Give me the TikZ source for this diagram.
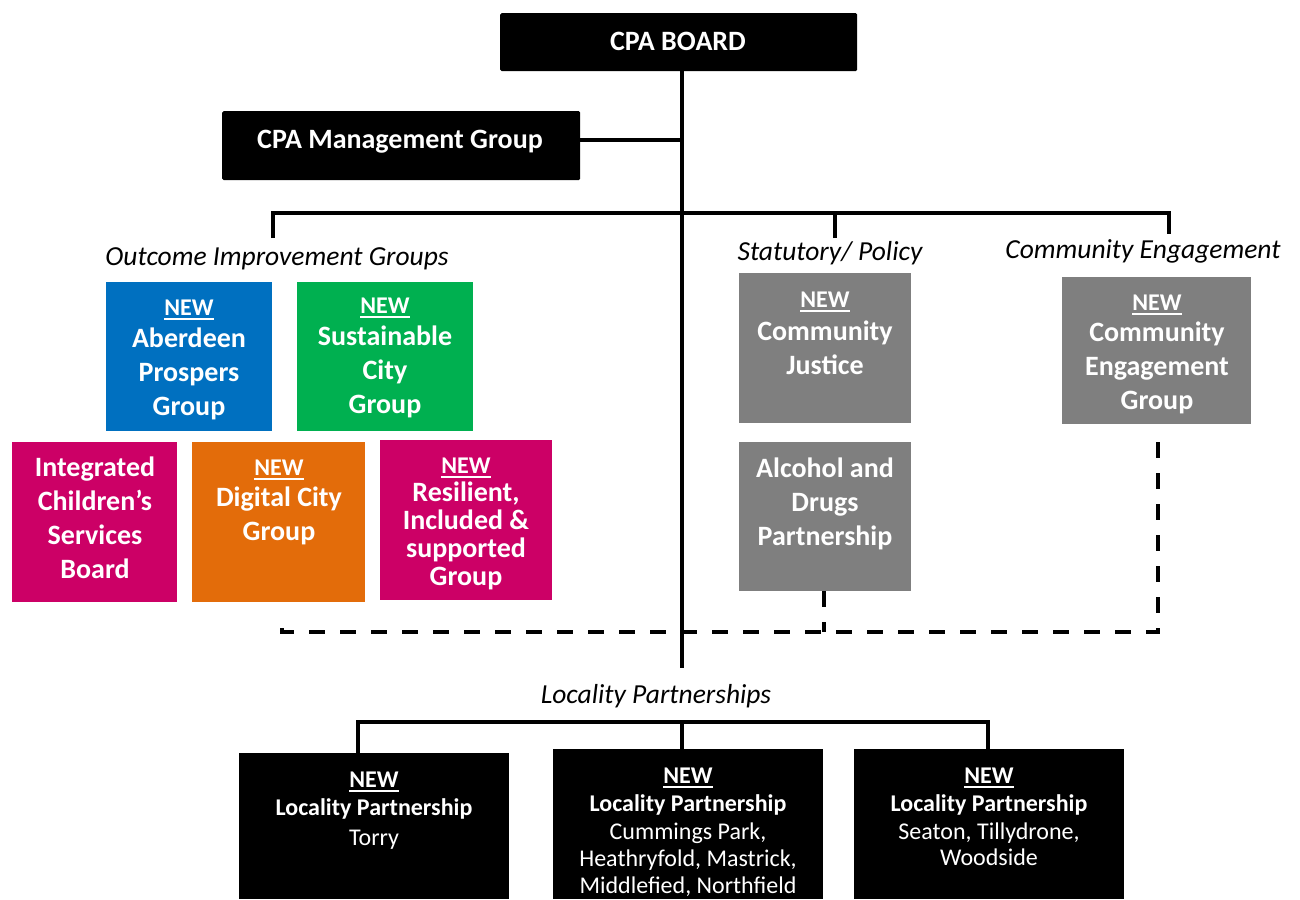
\documentclass[tikz,border=0pt]{standalone}
\usepackage{fontspec}
\setmainfont{Carlito}
\definecolor{cblue}{RGB}{0,112,192}
\definecolor{cgreen}{RGB}{0,176,80}
\definecolor{cmag}{RGB}{204,0,102}
\definecolor{corange}{RGB}{227,108,10}
\definecolor{cgray}{RGB}{127,127,127}
\newsavebox\ulbox
\newcommand\newul[1]{\sbox\ulbox{#1}\rlap{\rule[-4.5pt]{\wd\ulbox}{1.6pt}}\usebox\ulbox}
\newcommand\fstrut{\rule{0pt}{22pt}}
\newcommand\NEWa{{\fontsize{24}{28}\selectfont\newul{NEW}}}
\begin{document}
\begin{tikzpicture}[x=1pt,y=-1pt,
  box/.style={rectangle,inner sep=0,anchor=north west,draw=none},
  blackbox/.style={box,fill=black,rounded corners=1.5pt},
  wtxt/.style={text=white,inner sep=0,align=center,font=\bfseries\fontsize{28}{34}\selectfont},
  wtxtsm/.style={text=white,inner sep=0,align=center,font=\fontsize{24}{28}\selectfont},
  lbl/.style={inner sep=0,anchor=base,font=\itshape\fontsize{27.5}{32}\selectfont},
  conn/.style={line width=3.8pt,black},
  dashline/.style={line width=4pt,black,dash pattern=on 16pt off 15pt}]
\useasboundingbox (0,0) rectangle (1300,899);

% top boxes
\node[blackbox,minimum width=357pt,minimum height=58pt] (board) at (500,13) {};
\node[wtxt,anchor=base] (boardt) at (678,51) {CPA BOARD};
\node[blackbox,minimum width=358pt,minimum height=69pt] (mg) at (222,111) {};
\node[wtxt,anchor=base] (mgt) at (400,148) {CPA Management Group};

% group labels
\node[lbl] (oigl) at (277,265) {Outcome Improvement Groups};
\node[lbl] (statl) at (830,260) {Statutory/ Policy};
\node[lbl] (cengl) at (1143,258) {Community Engagement};
\node[lbl] (locl) at (656,703) {Locality Partnerships};

% outcome improvement groups
\node[box,fill=cblue,minimum width=166pt,minimum height=149pt] (aber) at (106,282) {};
\node[wtxt,anchor=north] (abert) at (189,293) {\fstrut\NEWa\\[-2pt]Aberdeen\\Prospers\\Group};
\node[box,fill=cgreen,minimum width=176pt,minimum height=149pt] (sust) at (297,282) {};
\node[wtxt,anchor=north] (sustt) at (385,291) {\fstrut\NEWa\\[-2pt]Sustainable\\City\\Group};
\node[box,fill=cmag,minimum width=165pt,minimum height=160pt] (icsb) at (12,442) {};
\node[wtxt,anchor=north] (icsbt) at (95,454) {\fstrut Integrated\\Children’s\\Services\\Board};
\node[box,fill=corange,minimum width=173pt,minimum height=160pt] (dig) at (192,442) {};
\node[wtxt,anchor=north] (digt) at (279,453) {\fstrut\NEWa\\[-3pt]Digital City\\Group};
\node[box,fill=cmag,minimum width=172pt,minimum height=160pt] (res) at (380,440) {};
\node[wtxt,anchor=north,font=\bfseries\fontsize{28}{28}\selectfont] (rest) at (466,451) {\fstrut\NEWa\\Resilient,\\Included \&\\supported\\Group};

% statutory / policy
\node[box,fill=cgray,minimum width=172pt,minimum height=150pt] (cj) at (739,273) {};
\node[wtxt,anchor=north] (cjt) at (825,285) {\fstrut\NEWa\\[-1pt]Community\\Justice};
\node[box,fill=cgray,minimum width=172pt,minimum height=149pt] (adp) at (739,442) {};
\node[wtxt,anchor=north] (adpt) at (825,455) {\fstrut Alcohol and\\Drugs\\Partnership};

% community engagement
\node[box,fill=cgray,minimum width=189pt,minimum height=147pt] (ceg) at (1062,277) {};
\node[wtxt,anchor=north] (cegt) at (1157,288) {\fstrut\NEWa\\[-3pt]Community\\Engagement\\Group};

% locality partnerships
\node[box,fill=black,minimum width=270pt,minimum height=146pt] (lp1) at (239,753) {};
\node[wtxtsm,anchor=north] (lp1t) at (374,765) {\fstrut\textbf{\newul{NEW}}\\\textbf{Locality Partnership}\\[2pt]Torry};
\node[box,fill=black,minimum width=270pt,minimum height=150pt] (lp2) at (553,749) {};
\node[wtxtsm,anchor=north] (lp2t) at (688,761) {\fstrut\textbf{\newul{NEW}}\\\textbf{Locality Partnership}\\Cummings Park,\\[-1pt]Heathryfold, Mastrick,\\[-1pt]Middlefied, Northfield};
\node[box,fill=black,minimum width=270pt,minimum height=150pt] (lp3) at (854,749) {};
\node[wtxtsm,anchor=north] (lp3t) at (989,761) {\fstrut\textbf{\newul{NEW}}\\\textbf{Locality Partnership}\\Seaton, Tillydrone,\\[-2pt]Woodside};

% connectors
\coordinate (tb) at (682,668);
\coordinate (busL) at (273,213);
\coordinate (busR) at (1169,213);
\coordinate (oigd) at (273,238);
\coordinate (statd) at (835,238);
\coordinate (cengd) at (1169,234);
\coordinate (lbL) at (358,722);
\coordinate (lbR) at (988,722);
\coordinate (dR) at (1158,632);
\coordinate (dL) at (282,614);

\draw[conn] (board.south -| tb) -- (tb);
\draw[conn] ([yshift=5.5pt]mg.east) -- ([yshift=5.5pt]mg.east -| tb);
\draw[conn] (oigd) -- (busL) -- (busR) -- (cengd);
\draw[conn] (statd) -- (statd |- busL);
\draw[conn] (lp1.north -| lbL) -- (lbL) -- (lbR) -- (lp3.north -| lbR);
\draw[conn] (lp2.north -| tb) -- (tb |- lbL);

\draw[dashline] ([yshift=-18pt]ceg.south -| dR) -- (dR) -- (dL |- dR) -- (dL);
\draw[dashline] (adp.south -| 824,0) -- (dR -| 824,0);
\end{tikzpicture}
\end{document}
